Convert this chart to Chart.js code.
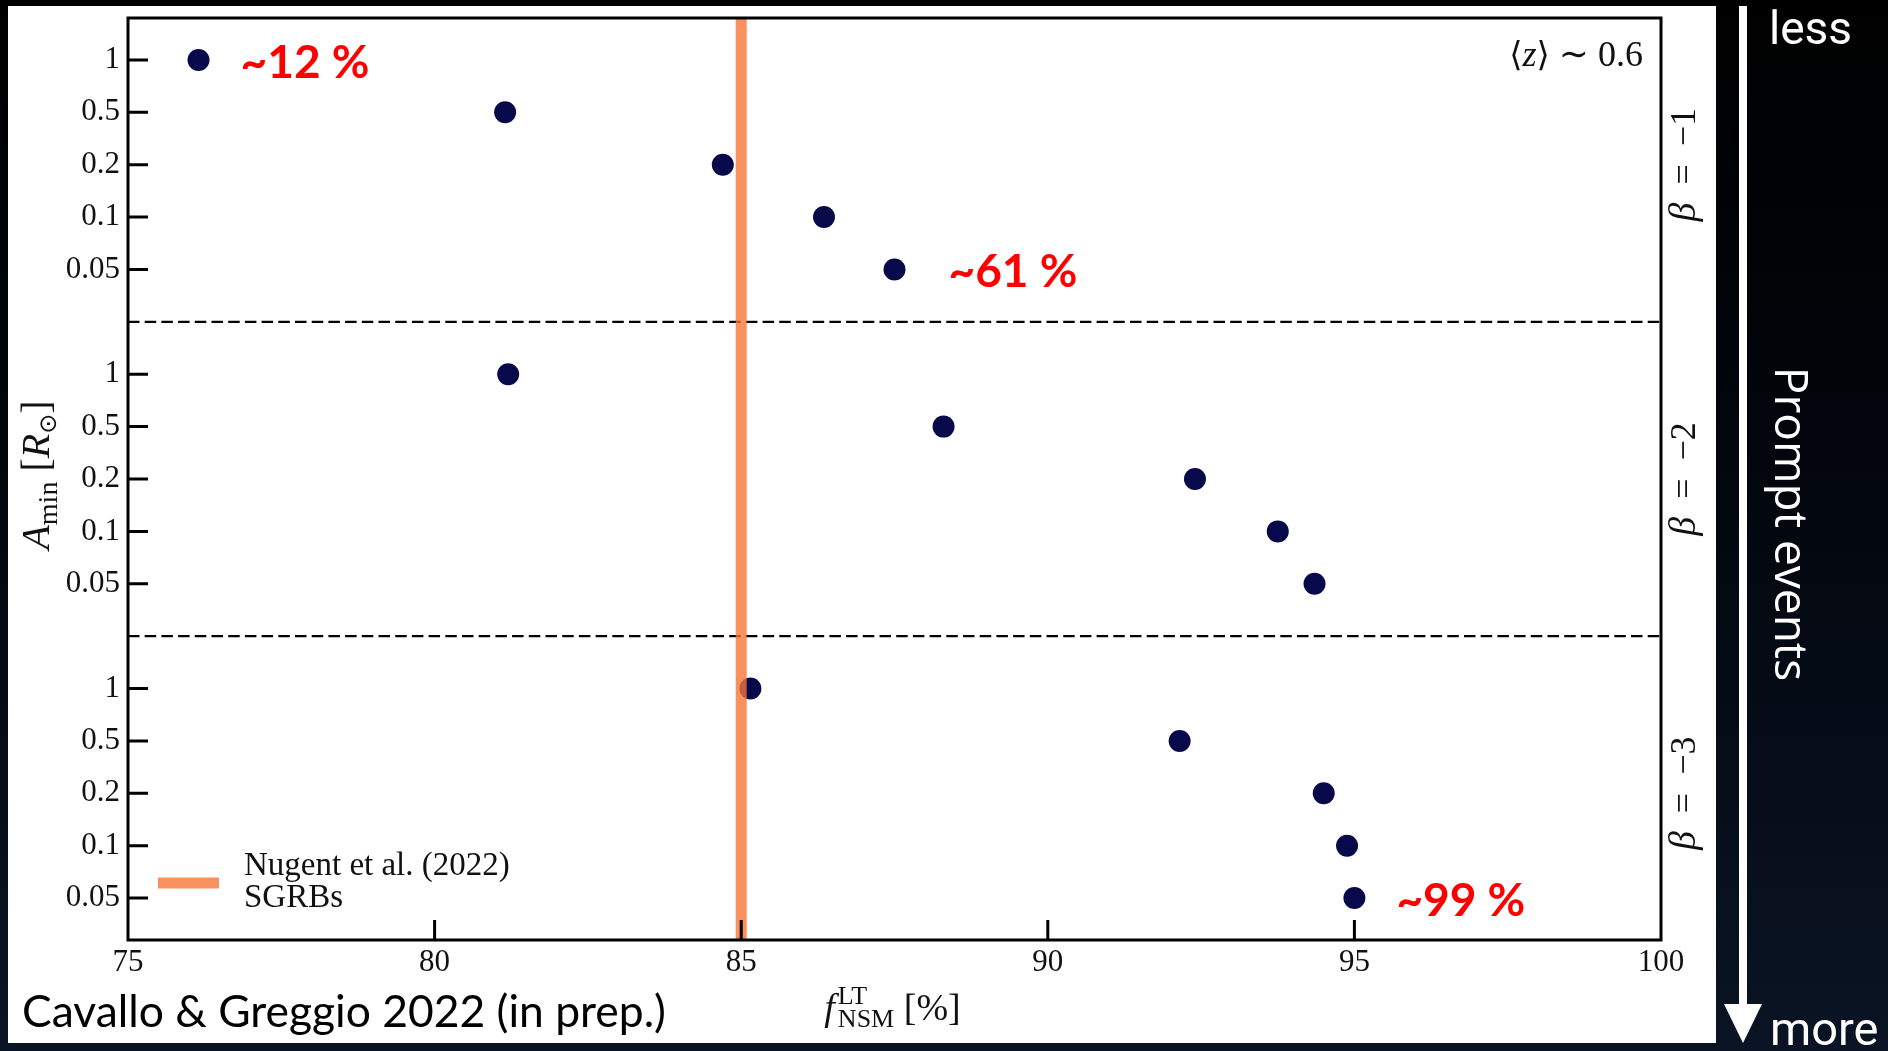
<!DOCTYPE html>
<html><head><meta charset="utf-8">
<script src="https://cdn.jsdelivr.net/npm/chart.js@4.4.1/dist/chart.umd.min.js"></script>
<style>html,body{margin:0;padding:0;background:#000;overflow:hidden}canvas{display:block}</style>
</head><body>
<canvas id="c" width="1888" height="1051"></canvas>
<script>
// ---------------- data ----------------
const aminLabels = ['1', '0.5', '0.2', '0.1', '0.05'];          // A_min [R_sun] categories per panel
const betaLabels = ['β = −1', 'β = −2', 'β = −3'];
const fBeta1 = [76.15, 81.15, 84.70, 86.35, 87.50];               // f_NSM^LT [%] for beta=-1
const fBeta2 = [81.20, 88.30, 92.40, 93.75, 94.35];               // beta=-2
const fBeta3 = [85.15, 92.15, 94.50, 94.88, 95.00];               // beta=-3
const xTickValues = [75, 80, 85, 90, 95, 100];
const nugentF = 85;
const nugentLegend = ['Nugent et al. (2022)', 'SGRBs'];
const highlightBeta = [0, 0, 2];
const highlightIdx = [0, 4, 4];
const highlightText = ['~12 %', '~61 %', '~99 %'];
const creditText = 'Cavallo & Greggio 2022 (in prep.)';

// ---------------- derived ----------------
const nCat = aminLabels.length;
const slot = (b, i) => b * (nCat + 1) + i;
const series = [fBeta1, fBeta2, fBeta3];
const yTickSlots = [];
series.forEach((s, b) => aminLabels.forEach((l, i) => yTickSlots.push(slot(b, i))));
const dividerSlots = [1, 2].map(b => slot(b, 0) - 1);
const yMin = -0.8, yMax = slot(2, nCat - 1) + 0.8;
const xMin = xTickValues[0], xMax = xTickValues[xTickValues.length - 1];

const SERIF = '"Liberation Serif", "DejaVu Serif", serif';
const NAVY = '#07094a';
const ORANGE = 'rgba(246,118,54,0.8)';

const datasets = [];
datasets.push({ label: nugentLegend.join(' '), data: [{x: nugentF, y: yMin}, {x: nugentF, y: yMax}],
  showLine: true, borderColor: ORANGE, borderWidth: 11, pointRadius: 0, borderCapStyle: 'butt' });
series.forEach((s, b) => datasets.push({
  label: betaLabels[b], data: s.map((v, i) => ({x: v, y: slot(b, i)})),
  pointRadius: 11, pointHoverRadius: 11, backgroundColor: NAVY, borderWidth: 0, showLine: false }));
dividerSlots.forEach(d => datasets.push({
  label: 'divider', data: [{x: xMin, y: d}, {x: xMax, y: d}], showLine: true,
  borderColor: '#000', borderWidth: 2.2, borderDash: [11.5, 5.2], pointRadius: 0 }));

function rich(ctx, parts, x, y) {
  let cx = x;
  parts.forEach(p => {
    if (p.stack) {
      let w = 0;
      p.stack.forEach(s => { ctx.font = s.font; ctx.fillText(s.t, cx, y + s.dy); w = Math.max(w, ctx.measureText(s.t).width); });
      cx += w;
    } else {
      ctx.font = p.font; ctx.fillText(p.t, cx, y + (p.dy || 0)); cx += ctx.measureText(p.t).width;
    }
  });
  return cx - x;
}
function richWidth(ctx, parts) {
  let w = 0;
  parts.forEach(p => {
    if (p.stack) { let m = 0; p.stack.forEach(s => { ctx.font = s.font; m = Math.max(m, ctx.measureText(s.t).width); }); w += m; }
    else { ctx.font = p.font; w += ctx.measureText(p.t).width; }
  });
  return w;
}

const decor = {
  id: 'decor',
  beforeDraw(chart) {
    const ctx = chart.ctx, W = chart.width, H = chart.height;
    ctx.save();
    const g = ctx.createLinearGradient(0, 0, 0, H);
    g.addColorStop(0, '#000000'); g.addColorStop(0.4, '#02050b'); g.addColorStop(1, '#0a1424');
    ctx.fillStyle = g; ctx.fillRect(0, 0, W, H);
    ctx.fillStyle = '#ffffff'; ctx.fillRect(8, 6, 1708, 1037);
    ctx.restore();
  },
  afterDatasetsDraw(chart) {
    const ctx = chart.ctx, a = chart.chartArea, xs = chart.scales.x, ys = chart.scales.y;
    ctx.save();
    // frame
    ctx.strokeStyle = '#000'; ctx.lineWidth = 3;
    ctx.strokeRect(a.left, a.top, a.right - a.left, a.bottom - a.top);
    // inward ticks
    ctx.lineWidth = 3;
    ctx.beginPath();
    ys.ticks.forEach(t => { const p = ys.getPixelForValue(t.value); ctx.moveTo(a.left, p); ctx.lineTo(a.left + 20, p); });
    xs.ticks.forEach(t => { if (t.value === xMin || t.value === xMax) return; const p = xs.getPixelForValue(t.value); ctx.moveTo(p, a.bottom); ctx.lineTo(p, a.bottom - 20); });
    ctx.stroke();

    ctx.fillStyle = '#111'; ctx.textBaseline = 'alphabetic';
    // x title
    const xParts = [
      {t: 'f', font: 'italic 38px ' + SERIF},
      {t: ' ', font: '12px ' + SERIF},
      {stack: [{t: 'LT', font: '26px ' + SERIF, dy: -16}, {t: 'NSM', font: '26px ' + SERIF, dy: 7}]},
      {t: ' [%]', font: '38px ' + SERIF}
    ];
    const xw = richWidth(ctx, xParts);
    rich(ctx, xParts, (a.left + a.right) / 2 - xw / 2 - 2, 1020);
    // y title
    ctx.save();
    ctx.translate(49, (a.top + a.bottom) / 2 - 4);
    ctx.rotate(-Math.PI / 2);
    const yParts = [
      {t: 'A', font: 'italic 40px ' + SERIF},
      {t: 'min', font: '28px ' + SERIF, dy: 8},
      {t: ' [', font: '40px ' + SERIF},
      {t: 'R', font: 'italic 40px ' + SERIF},
      {t: '⊙', font: '24px "DejaVu Sans", ' + SERIF, dy: 7},
      {t: ']', font: '40px ' + SERIF}
    ];
    const yw = richWidth(ctx, yParts);
    rich(ctx, yParts, -yw / 2, 0);
    ctx.restore();
    // beta labels on right
    betaLabels.forEach((lab, b) => {
      const cy = ys.getPixelForValue(slot(b, (nCat - 1) / 2));
      ctx.save();
      ctx.translate(a.right + 34, cy);
      ctx.rotate(-Math.PI / 2);
      const parts = [{t: 'β', font: 'italic 38px ' + SERIF}, {t: '  =  ', font: '36px ' + SERIF}, {t: lab.split('= ')[1], font: '36px ' + SERIF}];
      const w = richWidth(ctx, parts);
      rich(ctx, parts, -w / 2, 0);
      ctx.restore();
    });
    // <z> note
    const zParts = [
      {t: '⟨', font: '34px "DejaVu Serif", serif'},
      {t: 'z', font: 'italic 36px ' + SERIF},
      {t: '⟩', font: '34px "DejaVu Serif", serif'},
      {t: ' ∼ 0.6', font: '36px ' + SERIF}
    ];
    const zw = richWidth(ctx, zParts);
    rich(ctx, zParts, a.right - 18 - zw, 66);
    // legend
    ctx.textAlign = 'left'; ctx.textBaseline = 'middle';
    ctx.strokeStyle = ORANGE; ctx.lineWidth = 11; ctx.lineCap = 'butt';
    ctx.beginPath(); ctx.moveTo(158, 883); ctx.lineTo(219, 883); ctx.stroke();
    ctx.fillStyle = '#111'; ctx.font = '33px ' + SERIF;
    ctx.fillText(nugentLegend[0], 244, 866);
    ctx.fillText(nugentLegend[1], 244, 898);
    // red highlights
    ctx.fillStyle = '#ff0000'; ctx.font = 'bold 46px Lato, "Open Sans", sans-serif'; ctx.textBaseline = 'middle';
    highlightText.forEach((t, k) => {
      const b = highlightBeta[k], i = highlightIdx[k];
      const px = xs.getPixelForValue(series[b][i]), py = ys.getPixelForValue(slot(b, i));
      ctx.fillText(t, px + (k === 1 ? 54 : 42), py + 3);
    });
    ctx.restore();

    // outside decorations
    ctx.save();
    ctx.fillStyle = '#000'; ctx.textBaseline = 'alphabetic'; ctx.textAlign = 'left';
    let fs = 43; ctx.font = fs + 'px Lato, sans-serif';
    fs = fs * 644 / ctx.measureText(creditText).width; ctx.font = fs.toFixed(1) + 'px Lato, sans-serif';
    ctx.fillText(creditText, 22, 1027);
    // arrow
    ctx.fillStyle = '#fff';
    ctx.fillRect(1739, 6, 8, 1000);
    ctx.beginPath(); ctx.moveTo(1724, 1004); ctx.lineTo(1762, 1004); ctx.lineTo(1743, 1043); ctx.closePath(); ctx.fill();
    ctx.font = '46px Roboto, sans-serif';
    ctx.fillText('less', 1769, 44);
    ctx.font = '47px Roboto, sans-serif';
    ctx.fillText('more', 1770, 1045);
    ctx.save();
    ctx.translate(1775, 524); ctx.rotate(Math.PI / 2);
    ctx.font = '46px "Open Sans", sans-serif'; ctx.textAlign = 'center';
    ctx.fillText('Prompt events', 0, 0);
    ctx.restore();
    ctx.restore();
  }
};

new Chart(document.getElementById('c'), {
  type: 'scatter',
  data: { datasets },
  options: {
    responsive: false, animation: false, devicePixelRatio: 1,
    layout: { padding: { left: 0, top: 18, right: 227, bottom: 0 } },
    plugins: { legend: { display: false }, tooltip: { enabled: false } },
    events: [],
    scales: {
      x: {
        type: 'linear', min: xMin, max: xMax,
        afterBuildTicks: s => { s.ticks = xTickValues.map(v => ({value: v})); },
        afterFit: s => { s.height = 111; s.paddingLeft = 0; s.paddingRight = 0; },
        grid: { display: false, drawTicks: false }, border: { display: false },
        ticks: { color: '#111', font: { family: SERIF, size: 31 }, padding: 4, maxRotation: 0, autoSkip: false }
      },
      y: {
        type: 'linear', min: yMin, max: yMax, reverse: true,
        afterBuildTicks: s => { s.ticks = yTickSlots.map(v => ({value: v})); },
        afterFit: s => { s.width = 128; s.paddingTop = 0; s.paddingBottom = 0; },
        grid: { display: false, drawTicks: false }, border: { display: false },
        ticks: { color: '#111', font: { family: SERIF, size: 31 }, padding: 8, autoSkip: false,
          callback: v => aminLabels[v % (nCat + 1)] }
      }
    }
  },
  plugins: [decor]
});
</script>
</body></html>
